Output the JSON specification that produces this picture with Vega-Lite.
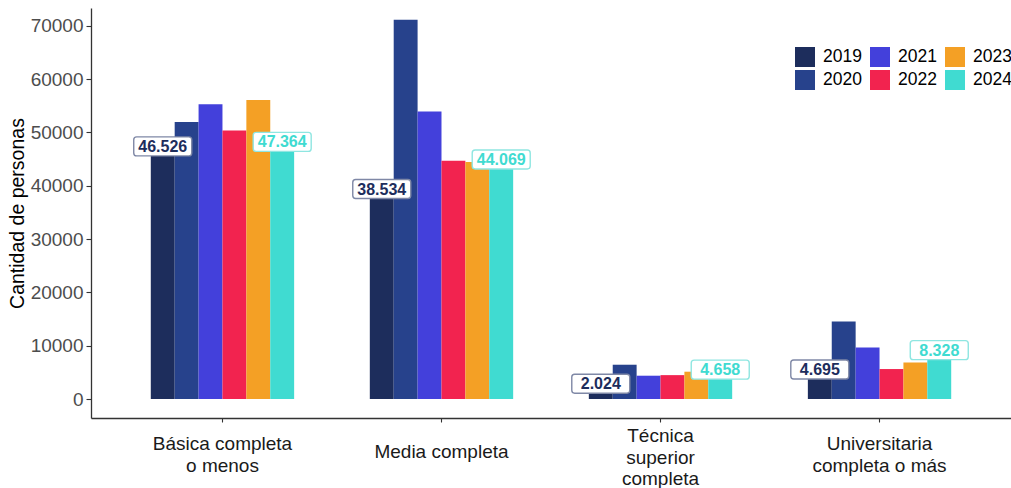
{
  "$schema": "https://vega.github.io/schema/vega-lite/v6.json",
  "autosize": {"type": "none"},
  "padding": {"left": 91, "top": 8, "right": 0, "bottom": 70},
  "width": 920,
  "height": 410,
  "background": "white",
  "config": {
    "view": {"stroke": null},
    "font": "Liberation Sans"
  },
  "data": {
    "values": [
      {"nivel": "Básica completa o menos", "year": "2019", "personas": 46526, "label": "46.526"},
      {"nivel": "Básica completa o menos", "year": "2020", "personas": 51950},
      {"nivel": "Básica completa o menos", "year": "2021", "personas": 55250},
      {"nivel": "Básica completa o menos", "year": "2022", "personas": 50370},
      {"nivel": "Básica completa o menos", "year": "2023", "personas": 56060},
      {"nivel": "Básica completa o menos", "year": "2024", "personas": 47364, "label": "47.364"},
      {"nivel": "Media completa", "year": "2019", "personas": 38534, "label": "38.534"},
      {"nivel": "Media completa", "year": "2020", "personas": 71120},
      {"nivel": "Media completa", "year": "2021", "personas": 53930},
      {"nivel": "Media completa", "year": "2022", "personas": 44680},
      {"nivel": "Media completa", "year": "2023", "personas": 44430},
      {"nivel": "Media completa", "year": "2024", "personas": 44069, "label": "44.069"},
      {"nivel": "Técnica superior completa", "year": "2019", "personas": 2024, "label": "2.024"},
      {"nivel": "Técnica superior completa", "year": "2020", "personas": 6430},
      {"nivel": "Técnica superior completa", "year": "2021", "personas": 4370},
      {"nivel": "Técnica superior completa", "year": "2022", "personas": 4480},
      {"nivel": "Técnica superior completa", "year": "2023", "personas": 5120},
      {"nivel": "Técnica superior completa", "year": "2024", "personas": 4658, "label": "4.658"},
      {"nivel": "Universitaria completa o más", "year": "2019", "personas": 4695, "label": "4.695"},
      {"nivel": "Universitaria completa o más", "year": "2020", "personas": 14550},
      {"nivel": "Universitaria completa o más", "year": "2021", "personas": 9680},
      {"nivel": "Universitaria completa o más", "year": "2022", "personas": 5620},
      {"nivel": "Universitaria completa o más", "year": "2023", "personas": 6860},
      {"nivel": "Universitaria completa o más", "year": "2024", "personas": 8328, "label": "8.328"}
    ]
  },
  "encoding": {
    "x": {
      "field": "nivel",
      "type": "nominal",
      "sort": ["Básica completa o menos", "Media completa", "Técnica superior completa", "Universitaria completa o más"],
      "scale": {"paddingInner": 0.3455, "paddingOuter": 0.273},
      "axis": {
        "title": null,
        "labelAngle": 0,
        "labelFont": "Liberation Sans",
        "labelFontSize": 19,
        "labelColor": "#1a1a1a",
        "labelBaseline": "middle",
        "labelLineHeight": 21.5,
        "labelPadding": {
          "condition": [
            {"test": "datum.value == 'Técnica superior completa'", "value": 13.7},
            {"test": "datum.value == 'Media completa'", "value": 29.7}
          ],
          "value": 21.6
        },
        "tickSize": 4,
        "tickColor": "#333333",
        "tickWidth": 1.1,
        "domainColor": "#333333",
        "domainWidth": 1.3,
        "grid": false,
        "labelExpr": "datum.value == 'Básica completa o menos' ? ['Básica completa', 'o menos'] : datum.value == 'Técnica superior completa' ? ['Técnica', 'superior', 'completa'] : datum.value == 'Universitaria completa o más' ? ['Universitaria', 'completa o más'] : datum.value"
      }
    },
    "xOffset": {
      "field": "year",
      "type": "nominal",
      "sort": ["2019", "2020", "2021", "2022", "2023", "2024"],
      "scale": {"paddingInner": 0, "paddingOuter": 0}
    },
    "y": {
      "field": "personas",
      "type": "quantitative",
      "scale": {"domain": [-3560, 73320], "nice": false, "zero": false},
      "axis": {
        "title": "Cantidad de personas",
        "titleFont": "Liberation Sans",
        "titleFontSize": 19.5,
        "titleFontWeight": "normal",
        "titleColor": "#000000",
        "titlePadding": 3,
        "values": [0, 10000, 20000, 30000, 40000, 50000, 60000, 70000],
        "format": "d",
        "labelFont": "Liberation Sans",
        "labelFontSize": 19,
        "labelColor": "#4d4d4d",
        "labelPadding": 3,
        "tickSize": 5,
        "tickColor": "#333333",
        "tickWidth": 1.1,
        "domainColor": "#333333",
        "domainWidth": 1.3,
        "grid": false
      }
    }
  },
  "layer": [
    {
      "mark": {"type": "bar"},
      "encoding": {
        "y2": {"datum": 0},
        "color": {
          "field": "year",
          "type": "nominal",
          "scale": {
            "domain": ["2019", "2020", "2021", "2022", "2023", "2024"],
            "range": ["#1D2D5C", "#27428C", "#4340DB", "#F2234F", "#F4A025", "#40DBD1"]
          },
          "legend": {
            "title": null,
            "orient": "none",
            "legendX": 704,
            "legendY": 39,
            "columns": 3,
            "symbolType": "square",
            "symbolSize": 400,
            "symbolStrokeWidth": 0,
            "symbolOpacity": 1,
            "labelFont": "Liberation Sans",
            "labelFontSize": 17.5,
            "labelColor": "#000000",
            "labelOffset": 8,
            "columnPadding": 8,
            "rowPadding": 3
          }
        }
      }
    },
    {
      "transform": [{"filter": "datum.label != null"}],
      "mark": {
        "type": "point",
        "shape": "M -0.9 -0.483 L 0.9 -0.483 Q 1 -0.483 1 -0.383 L 1 0.072 Q 1 0.172 0.9 0.172 L -0.9 0.172 Q -1 0.172 -1 0.072 L -1 -0.383 Q -1 -0.483 -0.9 -0.483 Z",
        "size": 3364,
        "filled": true,
        "fill": "white",
        "opacity": 1,
        "strokeWidth": 1.4
      },
      "encoding": {
        "stroke": {
          "condition": {"test": "datum.year == '2019'", "value": "#7f88a6"},
          "value": "#8fe6e1"
        }
      }
    },
    {
      "transform": [{"filter": "datum.label != null"}],
      "mark": {
        "type": "text",
        "font": "Liberation Sans",
        "fontSize": 16,
        "fontWeight": "bold",
        "baseline": "middle",
        "align": "center",
        "dy": -4
      },
      "encoding": {
        "text": {"field": "label"},
        "color": {
          "condition": {"test": "datum.year == '2019'", "value": "#1D2D5C"},
          "value": "#40DBD1"
        }
      }
    }
  ]
}
